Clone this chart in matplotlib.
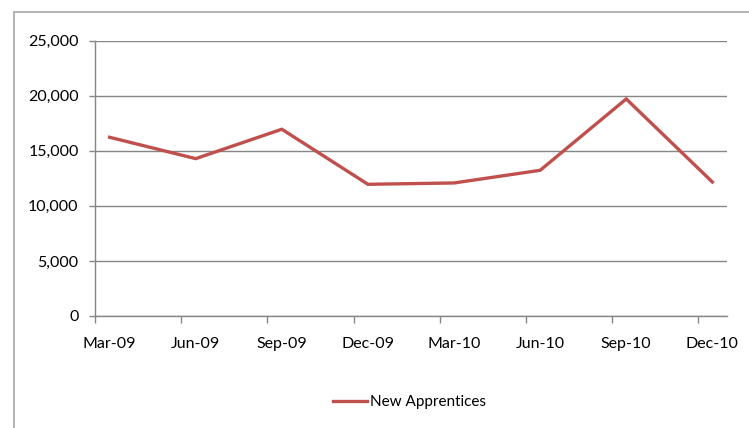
import matplotlib.pyplot as plt
from matplotlib.patches import Rectangle

# Quarterly new apprentice commencements
quarters = ['Mar-09', 'Jun-09', 'Sep-09', 'Dec-09', 'Mar-10', 'Jun-10', 'Sep-10', 'Dec-10']
new_apprentices = [16230, 14290, 16960, 11960, 12080, 13230, 19710, 12170]

plt.rcParams['font.family'] = ['Lato', 'DejaVu Sans']

fig = plt.figure(figsize=(7.49, 4.28), dpi=100)
ax = fig.add_axes([0.1272, 0.2617, 0.8430, 0.6432])

# chart area border (runs off the right and bottom edges)
fig.patches.append(Rectangle((14 / 749, -0.1), 1.2, 1 - 12 / 428 + 0.1,
                             transform=fig.transFigure, fill=False,
                             edgecolor='#a6a6a6', linewidth=1.2))

# date axis: ticks at the start of each quarter month, points mid-month
x = [i + 1 / 6 for i in range(len(quarters))]
ax.plot(x, new_apprentices, color='#c0504d', linewidth=2.4,
        solid_joinstyle='miter', label='New Apprentices')

ax.set_xlim(0, 7 + 1 / 3)
ax.set_ylim(0, 25000)
ax.set_yticks(range(0, 25001, 5000))
ax.set_yticklabels([f'{v:,}' for v in range(0, 25001, 5000)])
ax.yaxis.grid(True, color='#868686', linewidth=1)
ax.set_axisbelow(True)

ax.set_xticks(range(len(quarters)))
ax.set_xticklabels([])
ax.set_xticks(x, minor=True)
ax.set_xticklabels(quarters, minor=True)
ax.tick_params(axis='x', which='minor', length=0, pad=15)
ax.tick_params(axis='x', which='major', length=5, color='#868686', width=1)
ax.tick_params(axis='y', length=4, color='#868686', width=1, pad=8)
ax.tick_params(which='both', labelsize=11.5, labelcolor='black')

for side in ['top', 'right']:
    ax.spines[side].set_visible(False)
for side in ['left', 'bottom']:
    ax.spines[side].set_color('#868686')
    ax.spines[side].set_linewidth(1)

fig.legend(loc='center', bbox_to_anchor=(0.547, 0.061), frameon=False,
           fontsize=11, handlelength=2.2, handletextpad=0.2)

fig.savefig('out.png', dpi=100)
